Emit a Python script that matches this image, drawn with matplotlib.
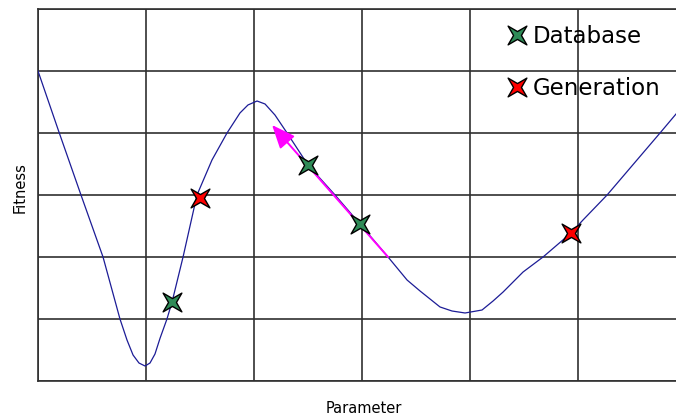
import numpy as np
import matplotlib
matplotlib.use("Agg")
import matplotlib.pyplot as plt
from matplotlib.path import Path

# fitness landscape (x in grid columns, y in grid rows)
curve_x = [0.0, 0.194, 0.398, 0.602, 0.759, 0.824, 0.880, 0.935, 0.991, 1.037,
           1.083, 1.130, 1.194, 1.241, 1.343, 1.472, 1.611, 1.750, 1.870, 1.944,
           2.028, 2.102, 2.194, 2.306, 2.500, 2.750, 2.981, 3.241, 3.417, 3.537,
           3.722, 3.833, 3.954, 4.111, 4.213, 4.306, 4.491, 4.676, 4.935, 5.046,
           5.269, 5.759, 5.907]
curve_y = [5.000, 4.016, 3.000, 2.000, 1.000, 0.661, 0.419, 0.290, 0.242, 0.290,
           0.435, 0.690, 1.000, 1.274, 2.000, 3.000, 3.565, 4.000, 4.323, 4.452,
           4.516, 4.468, 4.290, 4.000, 3.484, 3.000, 2.532, 2.000, 1.629, 1.452,
           1.194, 1.129, 1.097, 1.145, 1.290, 1.435, 1.758, 2.000, 2.387, 2.597,
           3.000, 4.000, 4.306]

db_x = [1.241, 2.500, 2.981]
db_y = [1.274, 3.484, 2.532]
gen_x = [1.500, 4.935]
gen_y = [2.952, 2.387]

arrow_start = (3.241, 2.000)
arrow_end = (2.167, 4.129)

# four-pointed star, tips on the diagonals
r = 0.42
star = Path([(1, 1), (0, r), (-1, 1), (-r, 0), (-1, -1), (0, -r),
             (1, -1), (r, 0), (1, 1)], closed=True)

fig = plt.figure(figsize=(6.76, 4.18), dpi=100)
ax = fig.add_axes([38 / 676, 37 / 418, 638 / 676, 372 / 418])

ax.plot(curve_x, curve_y, color="#1c1c96", lw=0.9, zorder=3)

ax.annotate("", xy=arrow_end, xytext=arrow_start,
            arrowprops=dict(arrowstyle="-|>,head_length=0.6,head_width=0.25",
                            color="magenta", lw=1.4, mutation_scale=24,
                            shrinkA=0, shrinkB=0),
            zorder=4)

ax.plot(db_x, db_y, ls="none", marker=star, ms=13.5, mfc="#2e8b57",
        mec="black", mew=1.0, label="Database", zorder=5)
ax.plot(gen_x, gen_y, ls="none", marker=star, ms=13.5, mfc="#ff0000",
        mec="black", mew=1.0, label="Generation", zorder=5)

ax.set_xlim(0, 5.907)
ax.set_ylim(0, 6)
ax.set_xticks(range(0, 6))
ax.set_yticks(range(0, 7))
ax.tick_params(length=0, labelbottom=False, labelleft=False)
ax.grid(True, color="#303030", lw=1.2)
ax.set_axisbelow(True)
for side in ["left", "bottom", "top"]:
    ax.spines[side].set_color("#303030")
    ax.spines[side].set_linewidth(1.2)
ax.spines["right"].set_visible(False)

ax.set_xlabel("Parameter", fontsize=10.5)
ax.xaxis.set_label_coords(0.511, -0.055)
ax.set_ylabel("Fitness", fontsize=10.5)
ax.yaxis.set_label_coords(-0.016, 0.52)

ax.legend(loc="upper left", bbox_to_anchor=(0.733, 0.956), frameon=False,
          fontsize=16.5, handlelength=1.0, handletextpad=0.17,
          labelspacing=1.27, borderpad=0, borderaxespad=0)

fig.savefig("out.png", dpi=100)
